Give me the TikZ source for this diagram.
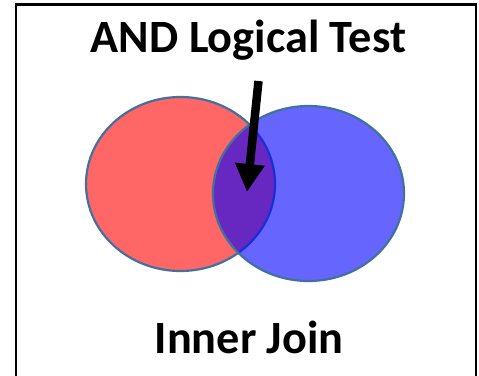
\documentclass[tikz,border=0pt]{standalone}
\usepackage{fontspec}
\setmainfont{Carlito}
\usetikzlibrary{shapes.geometric,arrows.meta}
\definecolor{edgeblue}{HTML}{41719C}
\tikzset{
  setshape/.style={ellipse, draw=edgeblue, line width=2.2pt, inner sep=0pt},
  label text/.style={font=\fontsize{46.3}{50}\selectfont\bfseries, anchor=base, inner sep=0pt},
  frame/.style={draw=black, line width=2.6pt},
  pointer/.style={line width=8.5pt, -{Triangle[width=28pt,length=28pt]}}
}
\begin{document}
\begin{tikzpicture}[x=1pt,y=-1pt]
\useasboundingbox (0,0) rectangle (479,375);
\fill[white] (0,0) rectangle (479,375);
\draw[frame] (16,4.5) rectangle (476,385);
\node[label text] (title) at (248.5,52) {AND Logical Test};
\node[setshape, fill=red, fill opacity=0.6, draw opacity=1, minimum width=189pt, minimum height=174pt] (left) at (180.5,184) {};
\node[setshape, fill=blue, fill opacity=0.6, draw opacity=1, minimum width=191pt, minimum height=175pt] (right) at (308.5,193.5) {};
\coordinate (ptop) at (258.5,81);
\coordinate (ptip) at (247,192);
\draw[pointer] (ptop) -- (ptip);
\node[label text] (join) at (249,353) {Inner Join};
\end{tikzpicture}
\end{document}
